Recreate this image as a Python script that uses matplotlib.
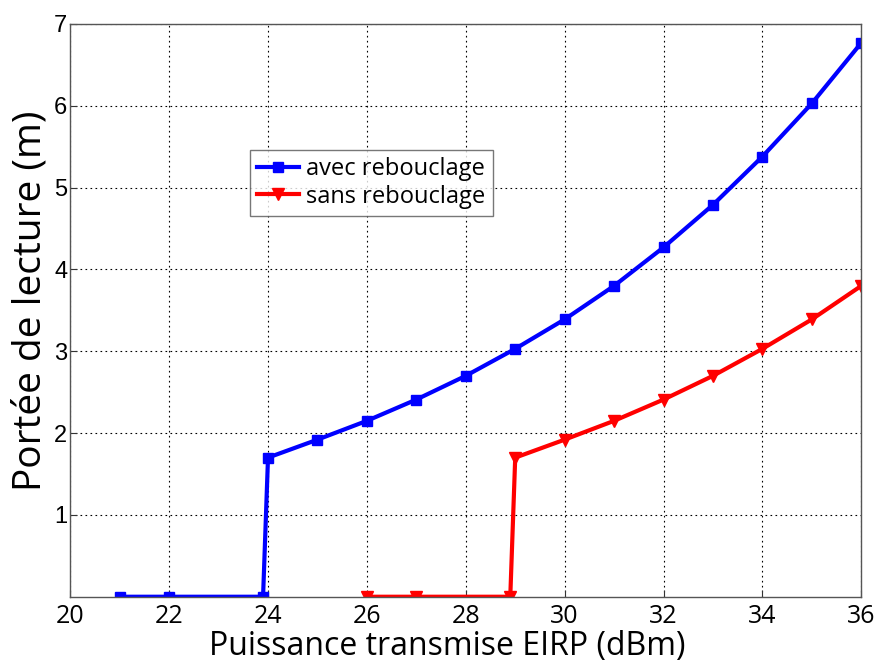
import matplotlib
matplotlib.use("Agg")
import matplotlib.pyplot as plt

# Data
x_avec = [21, 22, 23.9, 24.0, 25, 26, 27, 28, 29, 30, 31, 32, 33, 34, 35, 36]
y_avec = [0, 0, 0, 1.70, 1.92, 2.15, 2.41, 2.70, 3.03, 3.39, 3.80, 4.27, 4.79, 5.38, 6.03, 6.77]
x_sans = [26, 27, 28.9, 29.0, 30, 31, 32, 33, 34, 35, 36]
y_sans = [0, 0, 0, 1.70, 1.92, 2.15, 2.41, 2.70, 3.03, 3.39, 3.80]
x_ticks = [20, 22, 24, 26, 28, 30, 32, 34, 36]
y_ticks = [1, 2, 3, 4, 5, 6, 7]
labels = ["avec rebouclage", "sans rebouclage"]

fig = plt.figure(figsize=(8.78, 6.66), dpi=100)
ax = fig.add_axes([0.080, 0.104, 0.901, 0.860])

ax.plot(x_avec, y_avec, color="#0000ff", lw=3, marker="s", ms=7, label=labels[0])
ax.plot(x_sans, y_sans, color="#ff0000", lw=3, marker="v", ms=9, label=labels[1])

ax.set_xlim(20, 36)
ax.set_ylim(0, 7)
ax.set_xticks(x_ticks)
ax.set_yticks(y_ticks)
ax.grid(True, color="black", linestyle=(0, (1.5, 3)), lw=0.8)
ax.tick_params(direction="in", length=5, color="#333333")
ax.tick_params(axis="x", pad=5)
ax.tick_params(axis="y", pad=2)
for s in ax.spines.values():
    s.set_color("#555555")
    s.set_linewidth(1)

for lbl in ax.get_xticklabels():
    lbl.set_fontfamily("Open Sans")
    lbl.set_fontsize(18)
for lbl in ax.get_yticklabels():
    lbl.set_fontfamily("Liberation Sans")
    lbl.set_fontsize(17)

ax.set_xlabel("Puissance transmise EIRP (dBm)", fontsize=23, family="Open Sans")
ax.xaxis.set_label_coords(0.477, -0.058, transform=ax.transAxes)
ax.xaxis.label.set_verticalalignment("top")
ax.set_ylabel("Portée de lecture (m)", fontsize=28, family="Open Sans")
ax.yaxis.set_label_coords(-0.026, 0.516, transform=ax.transAxes)

leg = ax.legend(loc="upper left", bbox_to_anchor=(0.227, 0.780), prop={"family": "Open Sans", "size": 17},
                frameon=True, fancybox=False, edgecolor="#555555", borderpad=0.3,
                handlelength=1.8, handletextpad=0.3, labelspacing=0.15, borderaxespad=0)
leg.get_frame().set_linewidth(1)

fig.savefig("out.png", dpi=100)
